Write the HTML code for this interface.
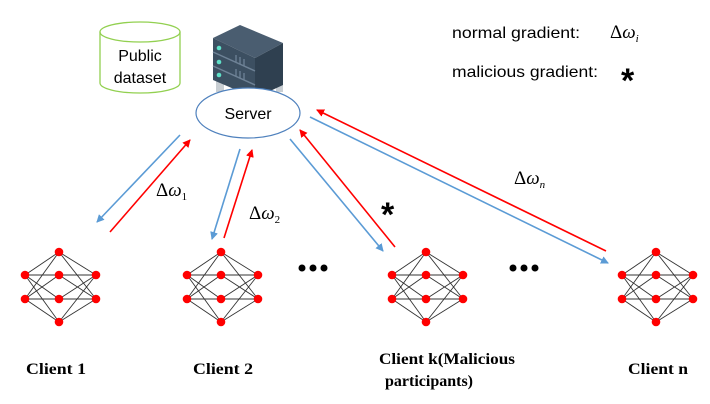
<!DOCTYPE html>
<html><head><meta charset="utf-8"><style>
html,body{margin:0;padding:0;background:#fff;}
svg{display:block;}
</style></head><body>
<svg width="710" height="404" viewBox="0 0 710 404" xmlns="http://www.w3.org/2000/svg">
<defs>
<marker id="mb" markerWidth="8" markerHeight="8" refX="7" refY="4" orient="auto" markerUnits="userSpaceOnUse"><path d="M0,0 L8,4 L0,8 z" fill="#5b9bd5"/></marker>
<marker id="mr" markerWidth="8" markerHeight="8" refX="7" refY="4" orient="auto" markerUnits="userSpaceOnUse"><path d="M0,0 L8,4 L0,8 z" fill="#ff0000"/></marker>
<g id="net">
<g stroke="#333" stroke-width="0.9">
<line x1="0" y1="0" x2="34" y2="-23"/><line x1="0" y1="0" x2="34" y2="0"/><line x1="0" y1="0" x2="34" y2="24"/><line x1="0" y1="0" x2="34" y2="47"/>
<line x1="0" y1="24" x2="34" y2="-23"/><line x1="0" y1="24" x2="34" y2="0"/><line x1="0" y1="24" x2="34" y2="24"/><line x1="0" y1="24" x2="34" y2="47"/>
<line x1="71" y1="0" x2="34" y2="-23"/><line x1="71" y1="0" x2="34" y2="0"/><line x1="71" y1="0" x2="34" y2="24"/><line x1="71" y1="0" x2="34" y2="47"/>
<line x1="71" y1="24" x2="34" y2="-23"/><line x1="71" y1="24" x2="34" y2="0"/><line x1="71" y1="24" x2="34" y2="24"/><line x1="71" y1="24" x2="34" y2="47"/>
</g>
<g fill="#ff0000"><circle cx="0" cy="0" r="4.3"/><circle cx="0" cy="24" r="4.3"/><circle cx="34" cy="-23" r="4.3"/><circle cx="34" cy="0" r="4.3"/><circle cx="34" cy="24" r="4.3"/><circle cx="34" cy="47" r="4.3"/><circle cx="71" cy="0" r="4.3"/><circle cx="71" cy="24" r="4.3"/></g>
</g>
</defs>

<g fill="none" stroke="#92d050" stroke-width="1.3">
<ellipse cx="140" cy="32" rx="40" ry="10"/>
<path d="M100,32 L100,83 A40,10 0 0 0 180,83 L180,32"/>
</g>
<text x="140" y="61" text-anchor="middle" font-family="Liberation Sans, sans-serif" font-size="16">Public</text>
<text x="140" y="83" text-anchor="middle" font-family="Liberation Sans, sans-serif" font-size="16">dataset</text>

<g>
<rect x="216" y="78" width="8" height="14" fill="#c8ced3"/>
<rect x="252" y="82" width="8" height="18" fill="#c8ced3"/>
<rect x="276" y="78" width="7" height="14" fill="#c8ced3"/>
<polygon points="213,38 240,25 283,43 255,58" fill="#4a5d70"/>
<polygon points="213,38 255,58 255,98 213,80" fill="#3c4f61"/>
<polygon points="255,58 283,43 283,85 255,98" fill="#2f4050"/>
<line x1="213" y1="52" x2="255" y2="71" stroke="#6e8296" stroke-width="1.5"/>
<line x1="213" y1="66" x2="255" y2="85" stroke="#6e8296" stroke-width="1.5"/>
<circle cx="219" cy="48" r="2.3" fill="#5fe0c8"/><circle cx="219" cy="62" r="2.3" fill="#5fe0c8"/><circle cx="219" cy="75" r="2.3" fill="#5fe0c8"/>
<g stroke="#6e8296" stroke-width="1.3"><line x1="236" y1="55" x2="236" y2="62"/><line x1="240" y1="57" x2="240" y2="64"/><line x1="244" y1="59" x2="244" y2="66"/><line x1="236" y1="69" x2="236" y2="76"/><line x1="240" y1="71" x2="240" y2="78"/><line x1="244" y1="73" x2="244" y2="80"/></g>
</g>
<ellipse cx="248" cy="113" rx="52" ry="25" fill="#fff" stroke="#4f81bd" stroke-width="1.2"/>
<text x="248" y="119" text-anchor="middle" font-family="Liberation Sans, sans-serif" font-size="16">Server</text>

<text x="452" y="38" font-family="Liberation Sans, sans-serif" font-size="16" textLength="128" lengthAdjust="spacingAndGlyphs">normal gradient:</text>
<text x="610" y="38" font-family="Liberation Serif, serif" font-size="19">Δ<tspan font-style="italic">ω</tspan><tspan font-size="11" dy="4" font-style="italic">i</tspan></text>
<text x="452" y="77" font-family="Liberation Sans, sans-serif" font-size="16" textLength="146" lengthAdjust="spacingAndGlyphs">malicious gradient:</text>
<text x="621" y="92" font-family="Liberation Sans, sans-serif" font-size="34" font-weight="bold">*</text>

<g stroke-width="1.6" fill="none">
<line x1="180" y1="135" x2="97" y2="222" stroke="#5b9bd5" marker-end="url(#mb)"/>
<line x1="110" y1="232" x2="190" y2="140" stroke="#ff0000" marker-end="url(#mr)"/>
<line x1="240" y1="149" x2="212" y2="239" stroke="#5b9bd5" marker-end="url(#mb)"/>
<line x1="224" y1="238" x2="252" y2="150" stroke="#ff0000" marker-end="url(#mr)"/>
<line x1="290" y1="139" x2="383" y2="251" stroke="#5b9bd5" marker-end="url(#mb)"/>
<line x1="395" y1="247" x2="300" y2="130" stroke="#ff0000" marker-end="url(#mr)"/>
<line x1="310" y1="117" x2="608" y2="263" stroke="#5b9bd5" marker-end="url(#mb)"/>
<line x1="606" y1="251" x2="317" y2="110" stroke="#ff0000" marker-end="url(#mr)"/>
</g>

<g font-family="Liberation Serif, serif" font-size="19">
<text x="156" y="196">Δ<tspan font-style="italic">ω</tspan><tspan font-size="11" dy="4">1</tspan></text>
<text x="249" y="219">Δ<tspan font-style="italic">ω</tspan><tspan font-size="11" dy="4">2</tspan></text>
<text x="514" y="184">Δ<tspan font-style="italic">ω</tspan><tspan font-size="11" dy="4" font-style="italic">n</tspan></text>
</g>
<text x="381" y="226" font-family="Liberation Sans, sans-serif" font-size="34" font-weight="bold">*</text>

<use href="#net" x="25" y="275"/>
<use href="#net" x="187" y="275"/>
<use href="#net" x="392" y="275"/>
<use href="#net" x="622" y="275"/>

<g fill="#000"><circle cx="302" cy="268" r="3.5"/><circle cx="313" cy="268" r="3.5"/><circle cx="324" cy="268" r="3.5"/>
<circle cx="513" cy="268" r="3.5"/><circle cx="524" cy="268" r="3.5"/><circle cx="535" cy="268" r="3.5"/></g>

<g font-family="Liberation Serif, serif" font-size="16" font-weight="bold">
<text x="26" y="374" textLength="60" lengthAdjust="spacingAndGlyphs">Client 1</text>
<text x="193" y="374" textLength="60" lengthAdjust="spacingAndGlyphs">Client 2</text>
<text x="379" y="364" textLength="136" lengthAdjust="spacingAndGlyphs">Client k(Malicious</text>
<text x="385" y="386" textLength="88" lengthAdjust="spacingAndGlyphs">participants)</text>
<text x="628" y="374" textLength="60" lengthAdjust="spacingAndGlyphs">Client n</text>
</g>
</svg>
</body></html>
